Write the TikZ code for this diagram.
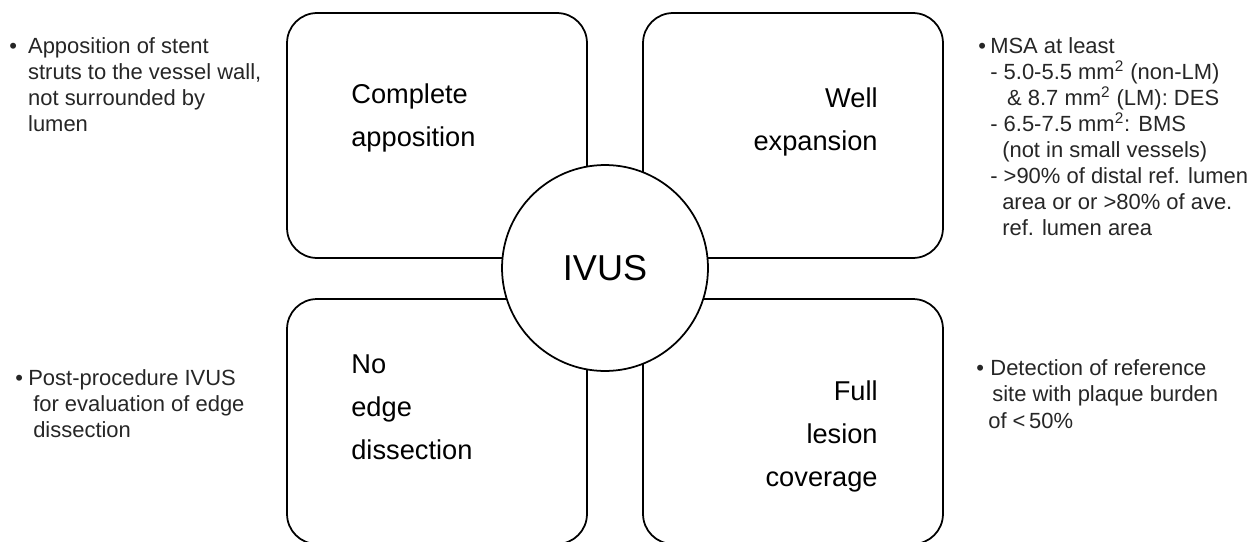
\documentclass[tikz,border=0pt]{standalone}
\usepackage{fontspec}
\setmainfont{Liberation Sans}

\tikzset{
  quad/.style={draw, rounded corners=0.6cm, line width=1pt, minimum width=6cm, minimum height=4.9cm},
  hub/.style={draw, circle, fill=white, line width=1pt, minimum size=4.12cm, inner sep=0pt, font=\fontsize{20.5}{24}\selectfont},
  boxtxt/.style={inner sep=0pt, font=\fontsize{15.5}{24.5}\selectfont},
  note/.style={inner sep=0pt, anchor=north west, align=left, text=black!85, font=\fontsize{12.5}{14.8}\selectfont}
}
\newcommand{\bul}[1]{\makebox[#1][l]{\textbullet}}

\begin{document}
\begin{tikzpicture}[x=0.02cm, y=-0.02cm]
    % Canvas in pixels of the reference (y runs down)
    \useasboundingbox (0,0) rectangle (1251,541);

    % Draw the four boxes
    \node[quad] (appo) at (437,135.5) {};
    \node[quad] (expa) at (793,135.5) {};
    \node[quad] (edge) at (437,421.5) {};
    \node[quad] (cove) at (793,421.5) {};

    % Draw the hub on top
    \node[hub] (ivus) at (605,268) {IVUS};

    % Texts in the boxes
    \node[boxtxt, anchor=north west, align=left] (appo-txt) at (351,83) {Complete\\apposition};
    \node[boxtxt, anchor=north east, align=right] (expa-txt) at (878,87) {Well\\expansion};
    \node[boxtxt, anchor=north west, align=left] (edge-txt) at (351,354) {No\\edge\\dissection};
    \node[boxtxt, anchor=north east, align=right] (cove-txt) at (878,380) {Full\\lesion\\coverage};

    % Side notes
    \node[note] (appo-note) at (9,37) {\bul{10.7pt}Apposition of stent\\
        \hspace*{10.7pt}struts to the vessel wall,\\
        \hspace*{10.7pt}not surrounded by\\
        \hspace*{10.7pt}lumen};
    \node[note] (edge-note) at (15,369) {\bul{7.4pt}Post-procedure IVUS\\
        \hspace*{10.2pt}for evaluation of edge\\
        \hspace*{10.2pt}dissection};
    \node[note] (expa-note) at (978,37) {\bul{6.8pt}MSA at least\\
        \hspace*{6.8pt}- 5.0-5.5 mm\textsuperscript{2} (non-LM)\\
        \hspace*{16.4pt}\& 8.7 mm\textsuperscript{2} (LM): DES\\
        \hspace*{6.8pt}- 6.5-7.5 mm\textsuperscript{2}: BMS\\
        \hspace*{13.6pt}(not in small vessels)\\
        \hspace*{6.8pt}- >90\% of distal ref. lumen\\
        \hspace*{13.6pt}area or or >80\% of ave.\\
        \hspace*{13.6pt}ref. lumen area};
    \node[note, font=\fontsize{12.5}{15.2}\selectfont] (cove-note) at (976,359) {\bul{8pt}Detection of reference\\
        \hspace*{9.1pt}site with plaque burden\\
        \hspace*{6.8pt}of <\,50\%};
\end{tikzpicture}
\end{document}
